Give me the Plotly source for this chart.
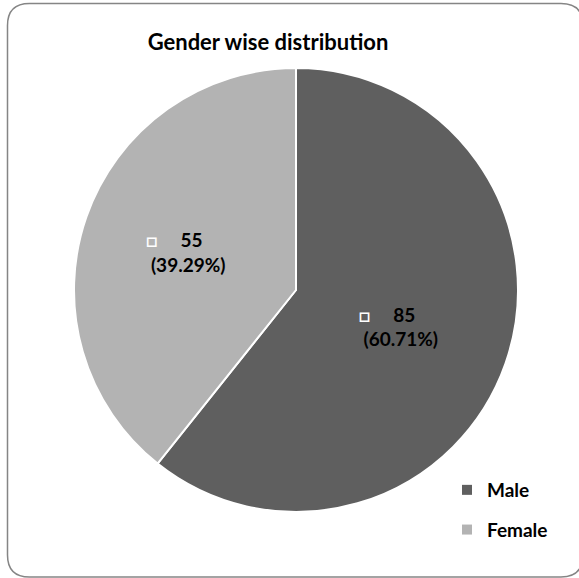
import plotly.graph_objects as go

# Gender split of respondents
genders = ["Male", "Female"]
counts = [85, 55]
slice_colors = ["#5f5f5f", "#b3b3b3"]

W, H = 579, 578
FONT = "Lato"


def px(x):
    return x / W


def py(y):
    return 1 - y / H


fig = go.Figure()

fig.add_trace(go.Pie(
    labels=genders,
    values=counts,
    sort=False,
    direction="clockwise",
    rotation=0,
    marker=dict(colors=slice_colors, line=dict(color="white", width=2)),
    texttemplate="<span style='color:white'>\u25a1</span>\u00a0\u00a0\u00a0\u00a0\u00a0%{value}\u00a0\u00a0\u00a0\u00a0\u00a0\u00a0<br>(%{percent:.2%})",
    textposition="inside",
    insidetextorientation="horizontal",
    insidetextfont=dict(family=FONT, size=19, color="black", weight="bold"),
    showlegend=False,
    hoverinfo="label+value+percent",
    domain=dict(x=[px(74), px(518)], y=[py(512), py(68)]),
))

# Legend entries (square keys), one group per gender so they can be spaced apart
for name, col in zip(genders, slice_colors):
    fig.add_trace(go.Scatter(
        x=[None], y=[None], mode="markers", name=name, legendgroup=name,
        marker=dict(symbol="square", size=10, color=col),
    ))

# Rounded chart-area border
x0, y0, x1, y1, r = 7.5, 3.5, 583.0, 577.0, 22.0
path = (
    f"M {px(x0 + r)} {py(y0)} L {px(x1 - r)} {py(y0)} "
    f"Q {px(x1)} {py(y0)} {px(x1)} {py(y0 + r)} "
    f"L {px(x1)} {py(y1 - r)} Q {px(x1)} {py(y1)} {px(x1 - r)} {py(y1)} "
    f"L {px(x0 + r)} {py(y1)} Q {px(x0)} {py(y1)} {px(x0)} {py(y1 - r)} "
    f"L {px(x0)} {py(y0 + r)} Q {px(x0)} {py(y0)} {px(x0 + r)} {py(y0)} Z"
)

fig.update_layout(
    width=W, height=H,
    margin=dict(l=0, r=0, t=0, b=0),
    paper_bgcolor="white",
    plot_bgcolor="white",
    title=dict(
        text="<b>Gender wise distribution</b>",
        x=px(268), xanchor="center", xref="paper",
        y=py(42), yanchor="middle", yref="paper",
        font=dict(family=FONT, size=22, color="black"),
    ),
    xaxis=dict(visible=False),
    yaxis=dict(visible=False),
    legend=dict(
        x=px(447), y=py(471), xanchor="left", yanchor="top",
        font=dict(family=FONT, size=19, color="black", weight="bold"),
        tracegroupgap=12,
        bgcolor="rgba(0,0,0,0)",
        itemclick=False,
    ),
    shapes=[dict(type="path", xref="paper", yref="paper", path=path,
                 line=dict(color="#858585", width=1.5), layer="above")],
)

fig.write_html("out.html")
